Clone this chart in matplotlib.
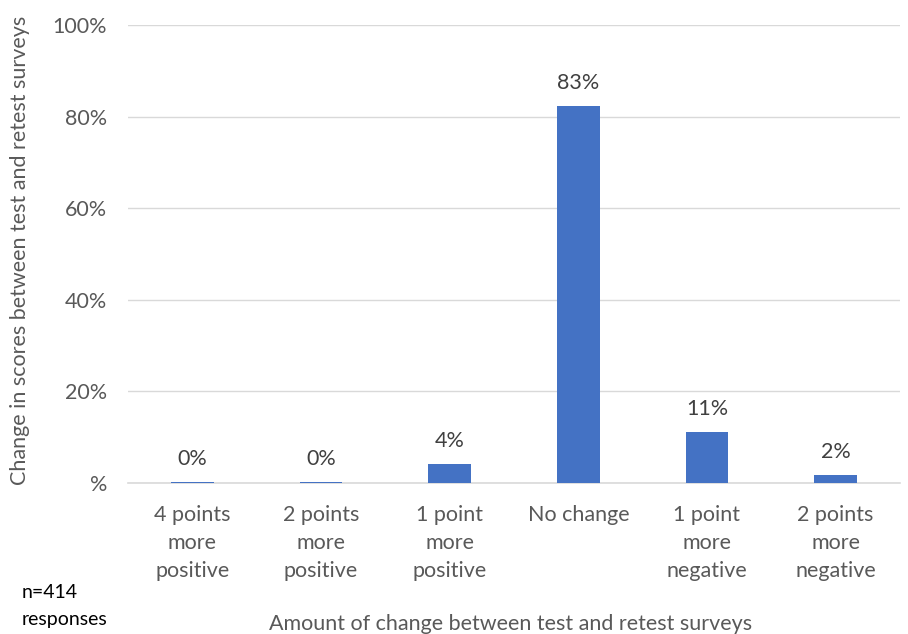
import matplotlib.pyplot as plt
from matplotlib.ticker import FuncFormatter

plt.rcParams['font.family'] = ['Lato', 'DejaVu Sans']

categories = ['4 points\nmore\npositive', '2 points\nmore\npositive', '1 point\nmore\npositive',
              'No change', '1 point\nmore\nnegative', '2 points\nmore\nnegative']
shares = [0.2, 0.2, 4.1, 82.4, 11.1, 1.7]
bar_labels = ['0%', '0%', '4%', '83%', '11%', '2%']

grey = '#595959'
fs = 15.5
fig = plt.figure(figsize=(9.08, 6.34), dpi=100)
ax = fig.add_axes([128 / 908, 1 - 483 / 634, 772 / 908, 458 / 634])

x = range(len(categories))
bars = ax.bar(x, shares, width=0.33, color='#4472C4', zorder=3)
for b, lab in zip(bars, bar_labels):
    ax.text(b.get_x() + b.get_width() / 2, b.get_height() + 2.8, lab,
            ha='center', va='bottom', fontsize=fs, color='#404040')

ax.set_xlim(-0.5, len(categories) - 0.5)
ax.set_ylim(0, 100)
ax.set_yticks([0, 20, 40, 60, 80, 100])
ax.yaxis.set_major_formatter(FuncFormatter(lambda v, p: '%' if v == 0 else '%d%%' % v))
ax.set_xticks(list(x))
ax.set_xticklabels(categories, fontsize=fs, color=grey, linespacing=1.5, va='top')
ax.tick_params(axis='y', length=0, labelsize=fs, labelcolor=grey, pad=15)
ax.tick_params(axis='x', length=0, pad=16)
ax.grid(axis='y', color='#d9d9d9', linewidth=1, zorder=0)
for s in ['top', 'right', 'left']:
    ax.spines[s].set_visible(False)
ax.spines['bottom'].set_color('#d9d9d9')
ax.spines['bottom'].set_linewidth(1.2)

fig.text(20 / 908, 1 - 250 / 634, 'Change in scores between test and retest surveys',
         rotation=90, ha='center', va='center', fontsize=fs, color=grey)
fig.text(511 / 908, 1 - 624 / 634, 'Amount of change between test and retest surveys',
         ha='center', va='center', fontsize=fs, color=grey)
fig.text(22 / 908, 1 - 592 / 634, 'n=414', ha='left', va='center', fontsize=14, color='black')
fig.text(22 / 908, 1 - 620 / 634, 'responses', ha='left', va='center', fontsize=14, color='black')

fig.savefig('out.png', dpi=100)
